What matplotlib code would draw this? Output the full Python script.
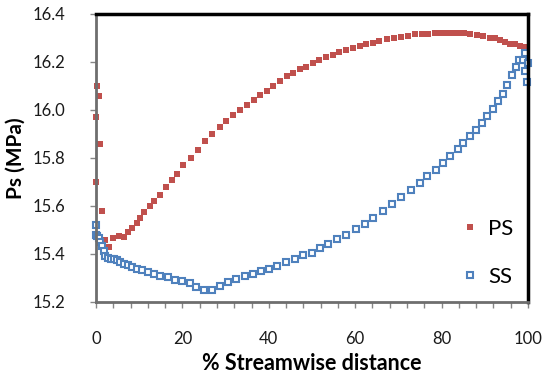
import matplotlib
matplotlib.use("Agg")
import matplotlib.pyplot as plt
from matplotlib.ticker import MultipleLocator

plt.rcParams['font.family'] = ['Lato', 'DejaVu Sans']

# pressure side
ps_x = [0.28, 0.58, 0.10, 1.04, 0.10, 1.34, 1.97, 3.05, 4.05, 5.36, 6.59, 7.5, 8.44,
        9.43, 10.2, 11.2, 12.4, 13.5, 14.8, 16.1, 17.5, 18.8, 20.2, 22.1, 23.7, 25.3,
        26.9, 28.6, 30.2, 31.8, 33.4, 35.0, 36.6, 38.0, 39.6, 41.0, 42.7, 44.1, 45.6,
        47.3, 48.7, 50.2, 51.7, 53.3, 54.9, 56.3, 57.9, 59.5, 61.2, 62.6, 64.1, 65.6,
        67.4, 69.0, 70.6, 72.3, 73.9, 75.5, 76.9, 78.5, 79.6, 80.7, 81.8, 82.9, 84.0,
        85.1, 86.6, 88.1, 89.6, 91.3, 92.4, 93.5, 94.7, 95.8, 97.0, 98.2, 99.3]
ps_y = [16.10, 16.06, 15.97, 15.86, 15.70, 15.58, 15.46, 15.43, 15.465, 15.473, 15.47,
        15.49, 15.508, 15.53, 15.552, 15.577, 15.598, 15.622, 15.647, 15.68, 15.71,
        15.735, 15.77, 15.80, 15.835, 15.87, 15.90, 15.93, 15.955, 15.98, 16.00, 16.02,
        16.04, 16.061, 16.08, 16.10, 16.12, 16.14, 16.154, 16.17, 16.18, 16.196, 16.207,
        16.22, 16.23, 16.24, 16.25, 16.258, 16.267, 16.274, 16.28, 16.288, 16.295, 16.30,
        16.303, 16.31, 16.315, 16.317, 16.318, 16.32, 16.321, 16.322, 16.322, 16.322,
        16.321, 16.32, 16.316, 16.312, 16.308, 16.302, 16.298, 16.291, 16.284, 16.277,
        16.273, 16.267, 16.263]

# suction side
ss_x = [0.0, 0.0, 0.2, 0.6, 1.0, 1.4, 1.8, 2.1, 2.7, 3.4, 4.1, 4.8, 5.6, 6.4, 7.4, 8.3,
        9.4, 10.6, 12.0, 13.5, 14.9, 16.6, 18.3, 20.0, 21.8, 23.1, 25.1, 26.9, 28.8,
        30.6, 32.5, 34.4, 36.3, 38.2, 40.0, 42.0, 44.0, 46.0, 47.9, 49.9, 51.9, 53.8,
        55.8, 57.9, 60.1, 62.2, 64.2, 66.4, 68.6, 70.7, 72.9, 74.9, 76.7, 78.6, 80.4,
        82.0, 83.7, 85.0, 86.6, 88.0, 89.3, 90.6, 91.8, 93.0, 94.2, 95.2, 96.3, 97.2,
        98.0, 98.9, 99.4, 100.0, 99.2, 99.8]
ss_y = [15.52, 15.48, 15.475, 15.468, 15.45, 15.434, 15.413, 15.39, 15.385, 15.38, 15.38,
        15.374, 15.368, 15.36, 15.353, 15.346, 15.338, 15.334, 15.327, 15.318, 15.31,
        15.305, 15.293, 15.288, 15.278, 15.263, 15.252, 15.251, 15.268, 15.282, 15.296,
        15.307, 15.317, 15.328, 15.338, 15.352, 15.366, 15.378, 15.394, 15.406, 15.424,
        15.44, 15.463, 15.48, 15.504, 15.527, 15.552, 15.579, 15.607, 15.638, 15.667,
        15.695, 15.723, 15.752, 15.781, 15.81, 15.837, 15.863, 15.89, 15.918, 15.946,
        15.975, 16.005, 16.036, 16.068, 16.106, 16.144, 16.18, 16.21, 16.21, 16.238,
        16.194, 16.162, 16.118]

fig = plt.figure(figsize=(5.43, 3.76), dpi=100)
ax = fig.add_axes([96/543, 1 - 302/376, 432/543, 288/376])

ax.plot(ps_x, ps_y, 's', color='#C0504D', ms=4.3, mew=0, label='PS', clip_on=False)
ax.plot(ss_x, ss_y, 's', mfc='white', mec='#4F81BD', ms=4.8, mew=1.5, label='SS',
        clip_on=False)

ax.set_xlim(0, 100)
ax.set_ylim(15.2, 16.4)
ax.xaxis.set_major_locator(MultipleLocator(20))
ax.xaxis.set_minor_locator(MultipleLocator(4))
ax.yaxis.set_major_locator(MultipleLocator(0.2))
ax.yaxis.set_major_formatter(plt.FormatStrFormatter('%.1f'))

ax.tick_params(axis='both', which='both', direction='out', length=4, width=1,
               color='#868686', labelsize=12, labelcolor='#1a1a1a')
ax.tick_params(axis='x', pad=17)
ax.tick_params(axis='y', pad=18)

for s in ['left', 'bottom']:
    ax.spines[s].set_color('#6e6e6e')
    ax.spines[s].set_linewidth(2)
for s in ['top', 'right']:
    ax.spines[s].set_color('black')
    ax.spines[s].set_linewidth(2.5)

ax.set_xlabel('% Streamwise distance', fontsize=15.5, fontweight='bold', labelpad=4)
ax.set_ylabel('Ps (MPa)', fontsize=15, fontweight='bold', labelpad=5)

ax.legend(loc='center left', bbox_to_anchor=(0.805, 0.17), frameon=False, fontsize=16,
          handlelength=0.6, handletextpad=0.5, labelspacing=1.25, markerscale=0.9)

fig.savefig('out.png', dpi=100)
